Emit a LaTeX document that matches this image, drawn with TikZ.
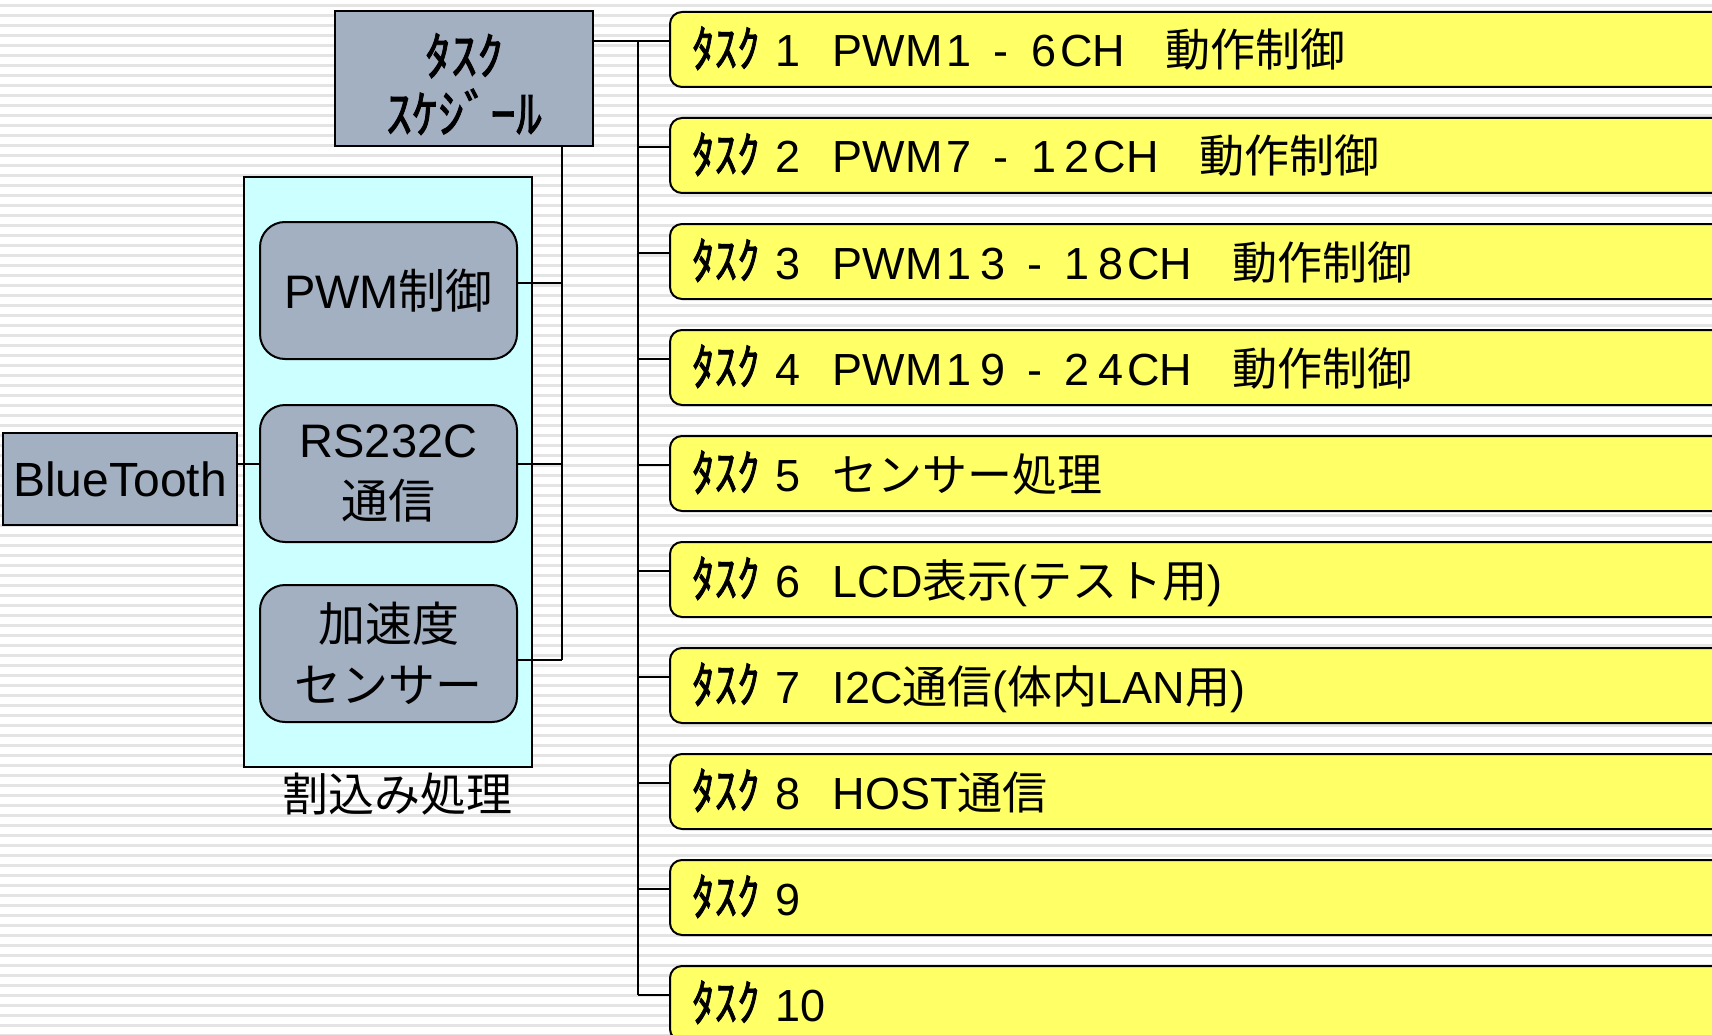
\documentclass[tikz,border=0pt]{standalone}
\usepackage{fontspec}
\usepackage{graphicx}
\setmainfont{Liberation Sans}
\newfontfamily\jpfont{Noto Sans CJK JP}
\newfontfamily\hkfont[FakeBold=1.5]{Noto Sans CJK JP}
\newcommand\jp[1]{{\jpfont #1}}
\newcommand\hk[1]{\scalebox{1}[1.12]{\hkfont #1}\hspace{16pt}}
\newcommand\gap{\jp{　}\kern-13pt}
\newcommand\cel[1]{\makebox[33.5pt]{#1}}
\newcommand\hy{\makebox[51pt]{-}}
\usetikzlibrary{calc}
\definecolor{boxgray}{RGB}{162,176,194}
\definecolor{irqcyan}{RGB}{204,255,255}
\definecolor{taskyellow}{RGB}{255,255,102}
\definecolor{stripe}{RGB}{228,228,228}
\begin{document}
\begin{tikzpicture}[x=1pt,y=-1pt,
  conn/.style={line width=1.5pt, draw=black},
  graybox/.style={draw=black, line width=2pt, fill=boxgray, inner sep=0pt},
  irqbox/.style={graybox, rounded corners=25pt, minimum width=257pt, minimum height=137pt, align=center, font=\fontsize{47}{61}\selectfont},
  taskbox/.style={draw=black, line width=2pt, fill=taskyellow, rounded corners=12pt, anchor=north west,
     minimum height=75pt, inner xsep=22pt, inner ysep=0pt, text width=1056pt, align=left,
     text height=40pt, text depth=5pt, font=\fontsize{45}{54}\selectfont},
]
\useasboundingbox (0,0) rectangle (1712,1035);
\clip (0,0) rectangle (1712,1035);
\fill[white] (0,0) rectangle (1712,1035);
\foreach \k in {0,...,103} \fill[stripe] (0,{4.3+10*\k}) rectangle (1712,{7.3+10*\k});

% interrupt group
\node[draw=black, line width=2pt, fill=irqcyan, minimum width=288pt, minimum height=590pt, inner sep=0pt] (irq) at (388,472) {};
\node[font=\jpfont\fontsize{46}{50}\selectfont, inner sep=0pt] (irqlabel) at (397,794) {割込み処理};

% scheduler
\node[graybox, minimum width=258pt, minimum height=135pt, align=center, font=\fontsize{52}{58}\selectfont\hkfont] (sched) at (464,78.5) {\rule{0pt}{53pt}ﾀｽｸ\\ｽｹｼﾞｰﾙ};

% bluetooth
\node[graybox, minimum width=234pt, minimum height=92pt, font=\fontsize{48}{52}\selectfont] (bt) at (120,479) {BlueTooth};

% interrupt handlers
\node[irqbox] (pwm) at (388.5,290.5) {PWM\jp{制御}};
\node[irqbox] (rs) at (388.5,473.5) {RS232C\\\jp{通信}};
\node[irqbox] (acc) at (388.5,653.5) {\jp{加速度}\\\jp{センサー}};

% tasks
\node[taskbox] (t1) at (669,11) {\hk{ﾀｽｸ}1\gap PWM\cel{1}\hy\cel{6}CH\jp{　}\kern-5pt\jp{動作制御}};
\node[taskbox] (t2) at (669,117) {\hk{ﾀｽｸ}2\gap PWM\cel{7}\hy\cel{1}\cel{2}CH\jp{　}\kern-5pt\jp{動作制御}};
\node[taskbox] (t3) at (669,223) {\hk{ﾀｽｸ}3\gap PWM\cel{1}\cel{3}\hy\cel{1}\cel{8}CH\jp{　}\kern-5pt\jp{動作制御}};
\node[taskbox] (t4) at (669,329) {\hk{ﾀｽｸ}4\gap PWM\cel{1}\cel{9}\hy\cel{2}\cel{4}CH\jp{　}\kern-5pt\jp{動作制御}};
\node[taskbox] (t5) at (669,435) {\hk{ﾀｽｸ}5\gap\jp{センサー処理}};
\node[taskbox] (t6) at (669,541) {\hk{ﾀｽｸ}6\gap LCD\jp{表示}(\jp{テスト用})};
\node[taskbox] (t7) at (669,647) {\hk{ﾀｽｸ}7\gap I2C\jp{通信}(\jp{体内}LAN\jp{用})};
\node[taskbox] (t8) at (669,753) {\hk{ﾀｽｸ}8\gap HOST\jp{通信}};
\node[taskbox] (t9) at (669,859) {\hk{ﾀｽｸ}9};
\node[taskbox] (t10) at (669,965) {\hk{ﾀｽｸ}10};

% task bus
\foreach \i in {1,...,10} {
  \coordinate (b\i) at (638,{41+106*(\i-1)});
  \draw[conn] (b\i) -- (b\i -| t\i.west);
}
\draw[conn] (b1 -| sched.east) -- (b1);
\draw[conn] (b1) -- (b10);

% interrupt bus
\coordinate (vx) at (562,0);
\coordinate (i1) at (562,283);
\coordinate (i2) at (562,464);
\coordinate (i3) at (562,660);
\draw[conn] (vx |- sched.south) -- (i3);
\draw[conn] (i1) -- (i1 -| pwm.east);
\draw[conn] (i2) -- (i2 -| rs.east);
\draw[conn] (i3) -- (i3 -| acc.east);
\draw[conn] (i2 -| bt.east) -- (i2 -| rs.west);
\end{tikzpicture}
\end{document}
